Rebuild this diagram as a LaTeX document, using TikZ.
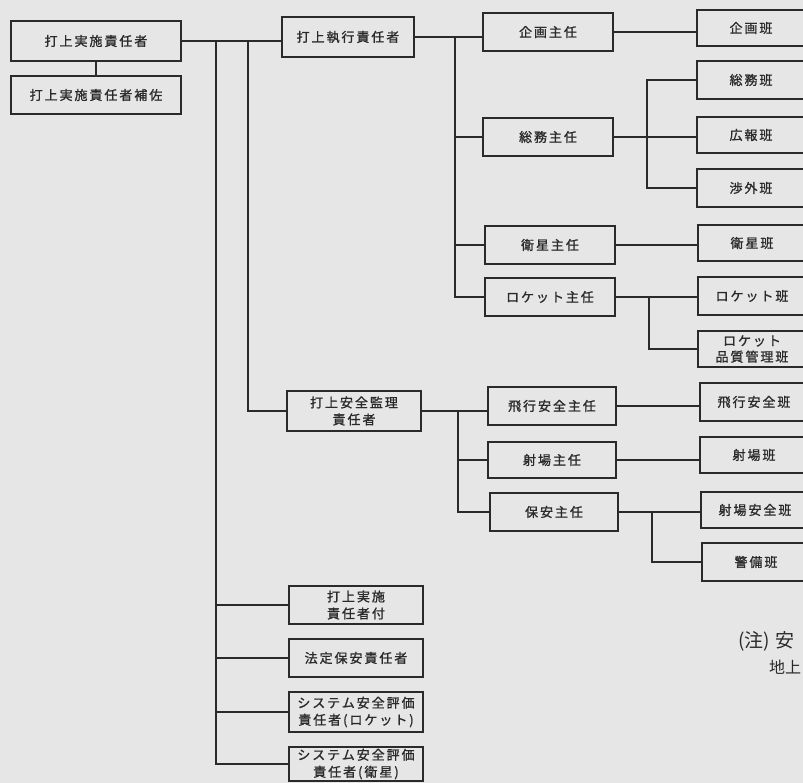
\documentclass[tikz,border=0pt]{standalone}
\usepackage{fontspec}
\setmainfont{Noto Sans CJK JP}
\newfontfamily\boxfam{Noto Sans CJK JP}[FakeBold=1.2, LetterSpace=15]
\definecolor{bg}{HTML}{E6E6E6}
\definecolor{ink}{HTML}{2A2A2A}
\newcommand\boxfont{\boxfam\fontsize{13}{17}\selectfont}
\tikzset{
  box/.style={draw=ink, line width=1.6pt, text=ink, inner sep=0pt, font=\boxfont, align=center},
  conn/.style={draw=ink, line width=1.6pt},
  notefont/.style={text=ink, inner sep=0pt, anchor=west},
}
\begin{document}
\begin{tikzpicture}[x=1pt,y=-1pt]
\useasboundingbox (0,0) rectangle (803,783);
\clip (0,0) rectangle (803,783);
\fill[bg] (0,0) rectangle (803,783);

% left
\node[box, minimum width=170pt, minimum height=40pt] (A) at (96,41) {打上実施責任者};
\node[box, minimum width=170pt, minimum height=38pt] (A2) at (96,95) {打上実施責任者補佐};

% column 2
\node[box, minimum width=132pt, minimum height=40pt] (B1) at (348,37) {打上執行責任者};
\node[box, minimum width=134pt, minimum height=40pt] (B2) at (354,411) {打上安全監理\\責任者};
\node[box, minimum width=134pt, minimum height=38pt] (B3) at (356,605) {打上実施\\責任者付};
\node[box, minimum width=134pt, minimum height=38pt] (B4) at (356,658) {法定保安責任者};
\node[box, minimum width=134pt, minimum height=40pt] (B5) at (356,712) {システム安全評価\\責任者(ロケット)};
\node[box, minimum width=134pt, minimum height=34pt] (B6) at (356,764) {システム安全評価\\責任者(衛星)};

% column 3
\node[box, minimum width=130pt, minimum height=38pt] (C1) at (548,32) {企画主任};
\node[box, minimum width=130pt, minimum height=38pt] (C2) at (548,137) {総務主任};
\node[box, minimum width=130pt, minimum height=38pt] (C3) at (550,245) {衛星主任};
\node[box, minimum width=130pt, minimum height=38pt] (C4) at (550,297) {ロケット主任};
\node[box, minimum width=128pt, minimum height=38pt] (E1) at (552,406) {飛行安全主任};
\node[box, minimum width=128pt, minimum height=36pt] (E2) at (552,460) {射場主任};
\node[box, minimum width=128pt, minimum height=38pt] (E3) at (554,512) {保安主任};

% column 4
\node[box, minimum width=108pt, minimum height=36pt] (D1) at (751,28) {企画班};
\node[box, minimum width=108pt, minimum height=38pt] (D2) at (751,80) {総務班};
\node[box, minimum width=108pt, minimum height=36pt] (D3) at (751,135) {広報班};
\node[box, minimum width=108pt, minimum height=38pt] (D4) at (751,188) {渉外班};
\node[box, minimum width=108pt, minimum height=36pt] (D5) at (752,243) {衛星班};
\node[box, minimum width=108pt, minimum height=38pt] (D6) at (752,296) {ロケット班};
\node[box, minimum width=108pt, minimum height=36pt, font=\boxfam\fontsize{13}{16}\selectfont] (D7) at (752,349) {ロケット\\品質管理班};
\node[box, minimum width=108pt, minimum height=38pt] (F1) at (754,402) {飛行安全班};
\node[box, minimum width=108pt, minimum height=36pt] (F2) at (754,455) {射場班};
\node[box, minimum width=108pt, minimum height=36pt] (F3) at (755,510) {射場安全班};
\node[box, minimum width=108pt, minimum height=38pt] (F4) at (756,562) {警備班};

% note
\node[notefont, font=\fontsize{19}{22}\selectfont] (N1) at (738,641) {(注)\hspace{5pt}安};
\node[notefont, font=\fontsize{16}{19}\selectfont] (N2) at (769,667) {地上};

% bus coordinates
\coordinate (bus1) at (216,0);
\coordinate (bus2) at (248,0);
\coordinate (bus3) at (455,0);
\coordinate (bus4) at (647,0);
\coordinate (bus5) at (649,0);
\coordinate (bus6) at (458,0);
\coordinate (bus7) at (652,0);

% connectors
\draw[conn] (A.south) -- (A2.north);
\draw[conn] (A.east) -- (A.east -| B1.west);
\draw[conn] (bus1 |- A.east) -- (bus1 |- B6.west) -- (B6.west);
\draw[conn] (bus1 |- B3.west) -- (B3.west);
\draw[conn] (bus1 |- B4.west) -- (B4.west);
\draw[conn] (bus1 |- B5.west) -- (B5.west);
\draw[conn] (bus2 |- A.east) -- (bus2 |- B2.west) -- (B2.west);

\draw[conn] (B1.east) -- (B1.east -| C1.west);
\draw[conn] (bus3 |- B1.east) -- (bus3 |- C4.west) -- (C4.west);
\draw[conn] (bus3 |- C2.west) -- (C2.west);
\draw[conn] (bus3 |- C3.west) -- (C3.west);

\draw[conn] (C1.east) -- (C1.east -| D1.west);
\draw[conn] (C2.east) -- (C2.east -| D3.west);
\draw[conn] (D2.west) -- (bus4 |- D2.west) -- (bus4 |- D4.west) -- (D4.west);
\draw[conn] (C3.east) -- (C3.east -| D5.west);
\draw[conn] (C4.east) -- (C4.east -| D6.west);
\draw[conn] (bus5 |- C4.east) -- (bus5 |- D7.west) -- (D7.west);

\draw[conn] (B2.east) -- (B2.east -| E1.west);
\draw[conn] (bus6 |- B2.east) -- (bus6 |- E3.west) -- (E3.west);
\draw[conn] (bus6 |- E2.west) -- (E2.west);

\draw[conn] (E1.east) -- (E1.east -| F1.west);
\draw[conn] (E2.east) -- (E2.east -| F2.west);
\draw[conn] (E3.east) -- (E3.east -| F3.west);
\draw[conn] (bus7 |- E3.east) -- (bus7 |- F4.west) -- (F4.west);
\end{tikzpicture}
\end{document}
